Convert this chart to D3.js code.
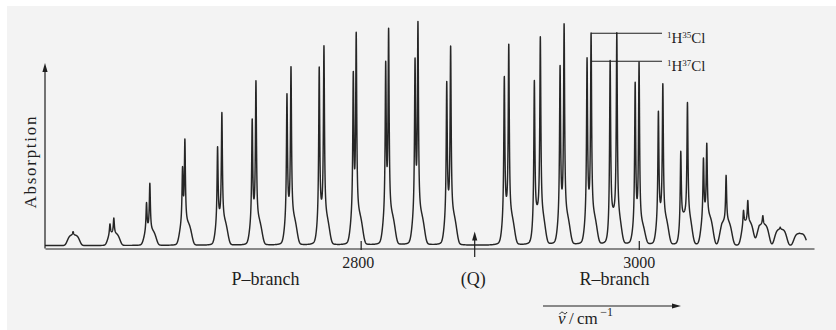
<!DOCTYPE html>
<html>
<head>
<meta charset="utf-8">
<script src="https://cdn.jsdelivr.net/npm/d3@7"></script>
<style>
  body { margin: 0; background: #fff; }
  svg { display: block; font-family: "Liberation Serif", "Times New Roman", serif; }
</style>
</head>
<body>
<div id="chart"></div>
<script>
// HCl fundamental band.
// wavenumbers in cm^-1, absorption in % of the tallest line
const axisRange = [2573, 3126];
const tickValues = [2800, 3000];
const bandCentre = 2882;

// one entry per rotational line pair, P(12) ... P(1), R(0) ... R(13)
const nuH35Cl  = [2593.2, 2622.5, 2648.4, 2673.6, 2700.2, 2724.7, 2749.9, 2773.6, 2796.8, 2820.1, 2841.2, 2864.7,
                  2906.5, 2929.2, 2946.3, 2965.7, 2984.2, 3000.2, 3017.3, 3035.0, 3048.9, 3062.8, 3078.4, 3089.2, 3101.7, 3115.5];
const topH35Cl = [7.4, 13.4, 28.7, 48.2, 59.8, 73.9, 80.1, 89.2, 95.1, 97.0, 99.9, 89.2,
                  90.0, 93.0, 98.9, 94.8, 94.8, 81.9, 72.5, 64.1, 46.3, 32.1, 21.1, 14.4, 9.3, 6.7];
const nuH37Cl  = [2591.0, 2619.7, 2646.0, 2671.9, 2697.1, 2722.0, 2747.0, 2770.2, 2794.7, 2818.0, 2839.1, 2861.9,
                  2903.3, 2924.9, 2943.4, 2962.8, 2979.4, 2997.4, 3014.1, 3030.2, 3046.5, 3059.7, 3075.3, 3086.6, 3099.6, 3113.5];
const topH37Cl = [0, 10.8, 20.2, 36.0, 44.8, 57.0, 68.1, 79.8, 77.9, 82.3, 83.8, 73.5,
                  75.7, 73.9, 80.4, 83.8, 82.5, 73.0, 60.3, 42.6, 39.7, 10.8, 16.7, 10.0, 7.0, 0];
// height of the broad foot under each pair
const plateau  = [4.5, 5, 6, 9, 10, 10, 11, 11, 12, 12, 12, 12,
                  11.5, 12, 11.5, 11.5, 11.5, 8, 11, 12, 12, 10, 10, 9, 7, 5.2];
const baseline = 1.3;

const branchLabels = [
  { text: "P\u2013branch", nu: 2707.2, anchor: "start" },
  { text: "(Q)",           nu: 2881.0, anchor: "middle" },
  { text: "R\u2013branch", nu: 2957.3, anchor: "start" }
];
const isotopeLabels = [
  { mass: "1", iso: "35", level: 94.8 },
  { mass: "1", iso: "37", level: 82.5 }
];

const W = 836, H = 330;
const INK = "#1e1e1e";
const SERIF = "Liberation Serif, Times New Roman, serif";

const x = d3.scaleLinear().domain(axisRange).range([45, 814]);
const y = d3.scaleLinear().domain([0, 100]).range([248.5, 21.5]);

const svg = d3.select("#chart").append("svg")
  .attr("width", W)
  .attr("height", H);

// scanned page: light grey, thin white edge top/left
svg.append("rect")
  .attr("x", 7).attr("y", 6)
  .attr("width", W - 7).attr("height", H - 6)
  .attr("fill", "#f3f3f3");

// line shapes: sharp needle + broad foot
const GAMMA = 0.45, FOOT_W = 4.8, FOOT_SHIFT = 1.4;
const needle = d => GAMMA * GAMMA / (GAMMA * GAMMA + d * d);
const foot = d => Math.exp(-Math.pow(d / FOOT_W, 4));

// needle amplitudes so that each pair tops out at the read heights
const lines = nuH35Cl.map((nu35, i) => {
  const nu37 = nuH37Cl[i];
  const c = (nu35 + nu37) / 2 + FOOT_SHIFT;
  const p = plateau[i];
  const t35 = topH35Cl[i] - baseline - p * foot(nu35 - c);
  let a35 = Math.max(0, t35), a37 = 0;
  if (topH37Cl[i] > 0) {
    const t37 = topH37Cl[i] - baseline - p * foot(nu37 - c);
    const k = needle(nu35 - nu37);
    a35 = Math.max(0, (t35 - k * t37) / (1 - k * k));
    a37 = Math.max(0, (t37 - k * t35) / (1 - k * k));
  }
  return { c, p, nu35, a35, nu37, a37 };
});

function absorption(nu) {
  let a = baseline;
  for (const l of lines) {
    a += l.p * foot(nu - l.c) + l.a35 * needle(nu - l.nu35) + l.a37 * needle(nu - l.nu37);
  }
  return a;
}

const trace = d3.range(axisRange[0], 3120.5, 0.04).map(nu => [nu, absorption(nu)]);

svg.append("path")
  .datum(trace)
  .attr("fill", "none")
  .attr("stroke", "#262626")
  .attr("stroke-width", 1.45)
  .attr("stroke-linejoin", "round")
  .attr("d", d3.line().x(d => x(d[0])).y(d => y(d[1])));

// x axis with inward ticks
const xAxis = d3.axisBottom(x)
  .tickValues(tickValues)
  .tickFormat(d3.format("d"))
  .tickSize(-9)
  .tickSizeOuter(0)
  .tickPadding(8);

const gx = svg.append("g")
  .attr("transform", `translate(0,${y(0)})`)
  .call(xAxis)
  .attr("color", INK)
  .attr("font-family", SERIF)
  .attr("font-size", 16);
gx.select(".domain").attr("stroke-width", 1.2);
gx.selectAll(".tick line").attr("stroke-width", 1.2).attr("transform", "translate(0,1.5)");
gx.selectAll(".tick text").attr("fill", INK).attr("dx", d => d === 2800 ? -3 : 0);

// y axis: bare line with arrow
const arrowHead = (tx, ty, dir) => {
  const L = 9, hw = 2.6;
  return dir === "up"
    ? `M${tx},${ty}L${tx - hw},${ty + L}L${tx + hw},${ty + L}Z`
    : `M${tx},${ty}L${tx - L},${ty - hw}L${tx - L},${ty + hw}Z`;
};

svg.append("line")
  .attr("x1", x(axisRange[0])).attr("x2", x(axisRange[0]))
  .attr("y1", y(0)).attr("y2", 70)
  .attr("stroke", INK).attr("stroke-width", 1.2);
svg.append("path")
  .attr("d", arrowHead(x(axisRange[0]), 63, "up"))
  .attr("fill", INK);

svg.append("text")
  .attr("transform", `translate(36,162.5) rotate(-90)`)
  .attr("text-anchor", "middle")
  .attr("font-family", SERIF)
  .attr("font-size", 17)
  .attr("textLength", 92)
  .attr("lengthAdjust", "spacing")
  .attr("fill", INK)
  .text("Absorption");

// Q arrow at band centre
svg.append("line")
  .attr("x1", x(bandCentre)).attr("x2", x(bandCentre))
  .attr("y1", 257).attr("y2", 238)
  .attr("stroke", INK).attr("stroke-width", 1.2);
svg.append("path")
  .attr("d", arrowHead(x(bandCentre), 231.5, "up"))
  .attr("fill", INK);

// branch labels
svg.selectAll(".branch")
  .data(branchLabels)
  .enter()
  .append("text")
  .attr("class", "branch")
  .attr("x", d => x(d.nu))
  .attr("y", 285)
  .attr("text-anchor", d => d.anchor)
  .attr("font-family", SERIF)
  .attr("font-size", 18)
  .attr("fill", INK)
  .text(d => d.text);

// wavenumber arrow + unit
svg.append("line")
  .attr("x1", 543).attr("x2", 674)
  .attr("y1", 306).attr("y2", 306)
  .attr("stroke", INK).attr("stroke-width", 1.2);
svg.append("path")
  .attr("d", arrowHead(681, 306, "right"))
  .attr("fill", INK);

const unit = svg.append("text")
  .attr("x", 558)
  .attr("y", 324)
  .attr("font-family", SERIF)
  .attr("font-size", 17)
  .attr("fill", INK);
unit.append("tspan").attr("font-style", "italic").text("\u03bd");
unit.append("tspan").text("\u2009/\u2009cm");
unit.append("tspan").attr("font-size", 12).attr("dy", -8).text("\u2009\u22121");

// tilde over the nu, drawn as a small wave
svg.append("path")
  .attr("d", "M559.5,314.2 C561,311.8 562.5,311.8 563.5,313 C564.5,314.2 566,314.2 567,312")
  .attr("fill", "none")
  .attr("stroke", INK)
  .attr("stroke-width", 1);

// isotope leaders
const labelX = 667;
const leaderStart = x(nuH35Cl[15]);

const iso = svg.selectAll(".iso")
  .data(isotopeLabels)
  .enter()
  .append("g")
  .attr("class", "iso");

iso.append("line")
  .attr("x1", leaderStart)
  .attr("x2", labelX - 5)
  .attr("y1", d => y(d.level))
  .attr("y2", d => y(d.level))
  .attr("stroke", INK)
  .attr("stroke-width", 1.1);

const isoText = iso.append("text")
  .attr("x", labelX)
  .attr("y", d => y(d.level) + 10)
  .attr("font-family", SERIF)
  .attr("font-size", 15)
  .attr("fill", INK);
isoText.append("tspan").attr("font-size", 9).attr("dy", -5).text(d => d.mass);
isoText.append("tspan").attr("dy", 5).text("H");
isoText.append("tspan").attr("font-size", 9).attr("dy", -5).text(d => d.iso);
isoText.append("tspan").attr("dy", 5).text("Cl");
</script>
</body>
</html>
